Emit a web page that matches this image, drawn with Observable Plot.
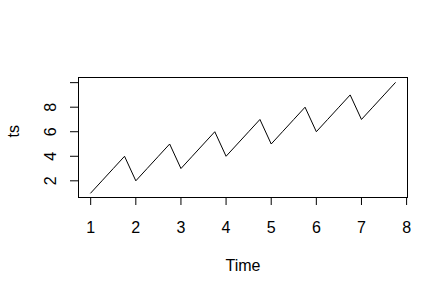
<!DOCTYPE html>
<html>
<head>
<meta charset="utf-8">
<script src="https://cdn.jsdelivr.net/npm/d3@7"></script>
<script src="https://cdn.jsdelivr.net/npm/@observablehq/plot@0.6"></script>
<style>
  html, body { margin: 0; padding: 0; background: #fff; }
  svg { display: block; }
</style>
</head>
<body>
<div id="chart"></div>
<script>
const startTime = 1;
const frequency = 4;
const values = [1, 2, 3, 4, 2, 3, 4, 5, 3, 4, 5, 6, 4, 5, 6, 7, 5, 6, 7, 8, 6, 7, 8, 9, 7, 8, 9, 10];
const xTicks = [1, 2, 3, 4, 5, 6, 7, 8];
const yTicks = [2, 4, 6, 8, 10];
const yLabelTicks = [2, 4, 6, 8];
const xLabel = "Time";
const yLabel = "ts";

const data = values.map((v, i) => ({ t: startTime + i / frequency, v }));

const font = "Liberation Sans, Arial, sans-serif";

const chart = Plot.plot({
  width: 448,
  height: 295,
  marginLeft: 78,
  marginRight: 41,
  marginTop: 77,
  marginBottom: 98,
  style: { fontFamily: font, fontSize: "16px", background: "#fff", color: "#000" },
  x: { domain: [0.73, 8.02] },
  y: { domain: [0.64, 10.42] },
  marks: [
    Plot.frame({ stroke: "#000", strokeWidth: 1 }),
    Plot.line(data, { x: "t", y: "v", stroke: "#000", strokeWidth: 1 }),
    Plot.axisX(xTicks, { tickSize: 8, tickPadding: 16, fontSize: 16, stroke: "#000", fill: "#000", label: null }),
    Plot.axisY(yTicks, { tickSize: 8, text: null, stroke: "#000", label: null }),
    Plot.axisY(yLabelTicks, { tickSize: 0, tickPadding: 28, rotate: -90, textAnchor: "middle", fontSize: 16, fill: "#000", label: null }),
    Plot.text([xLabel], { frameAnchor: "bottom", lineAnchor: "middle", dy: 68, fontSize: 16, fill: "#000" }),
    Plot.text([yLabel], { frameAnchor: "left", lineAnchor: "middle", dx: -65, rotate: -90, fontSize: 16, fill: "#000" })
  ]
});
document.getElementById("chart").appendChild(chart);
</script>
</body>
</html>
